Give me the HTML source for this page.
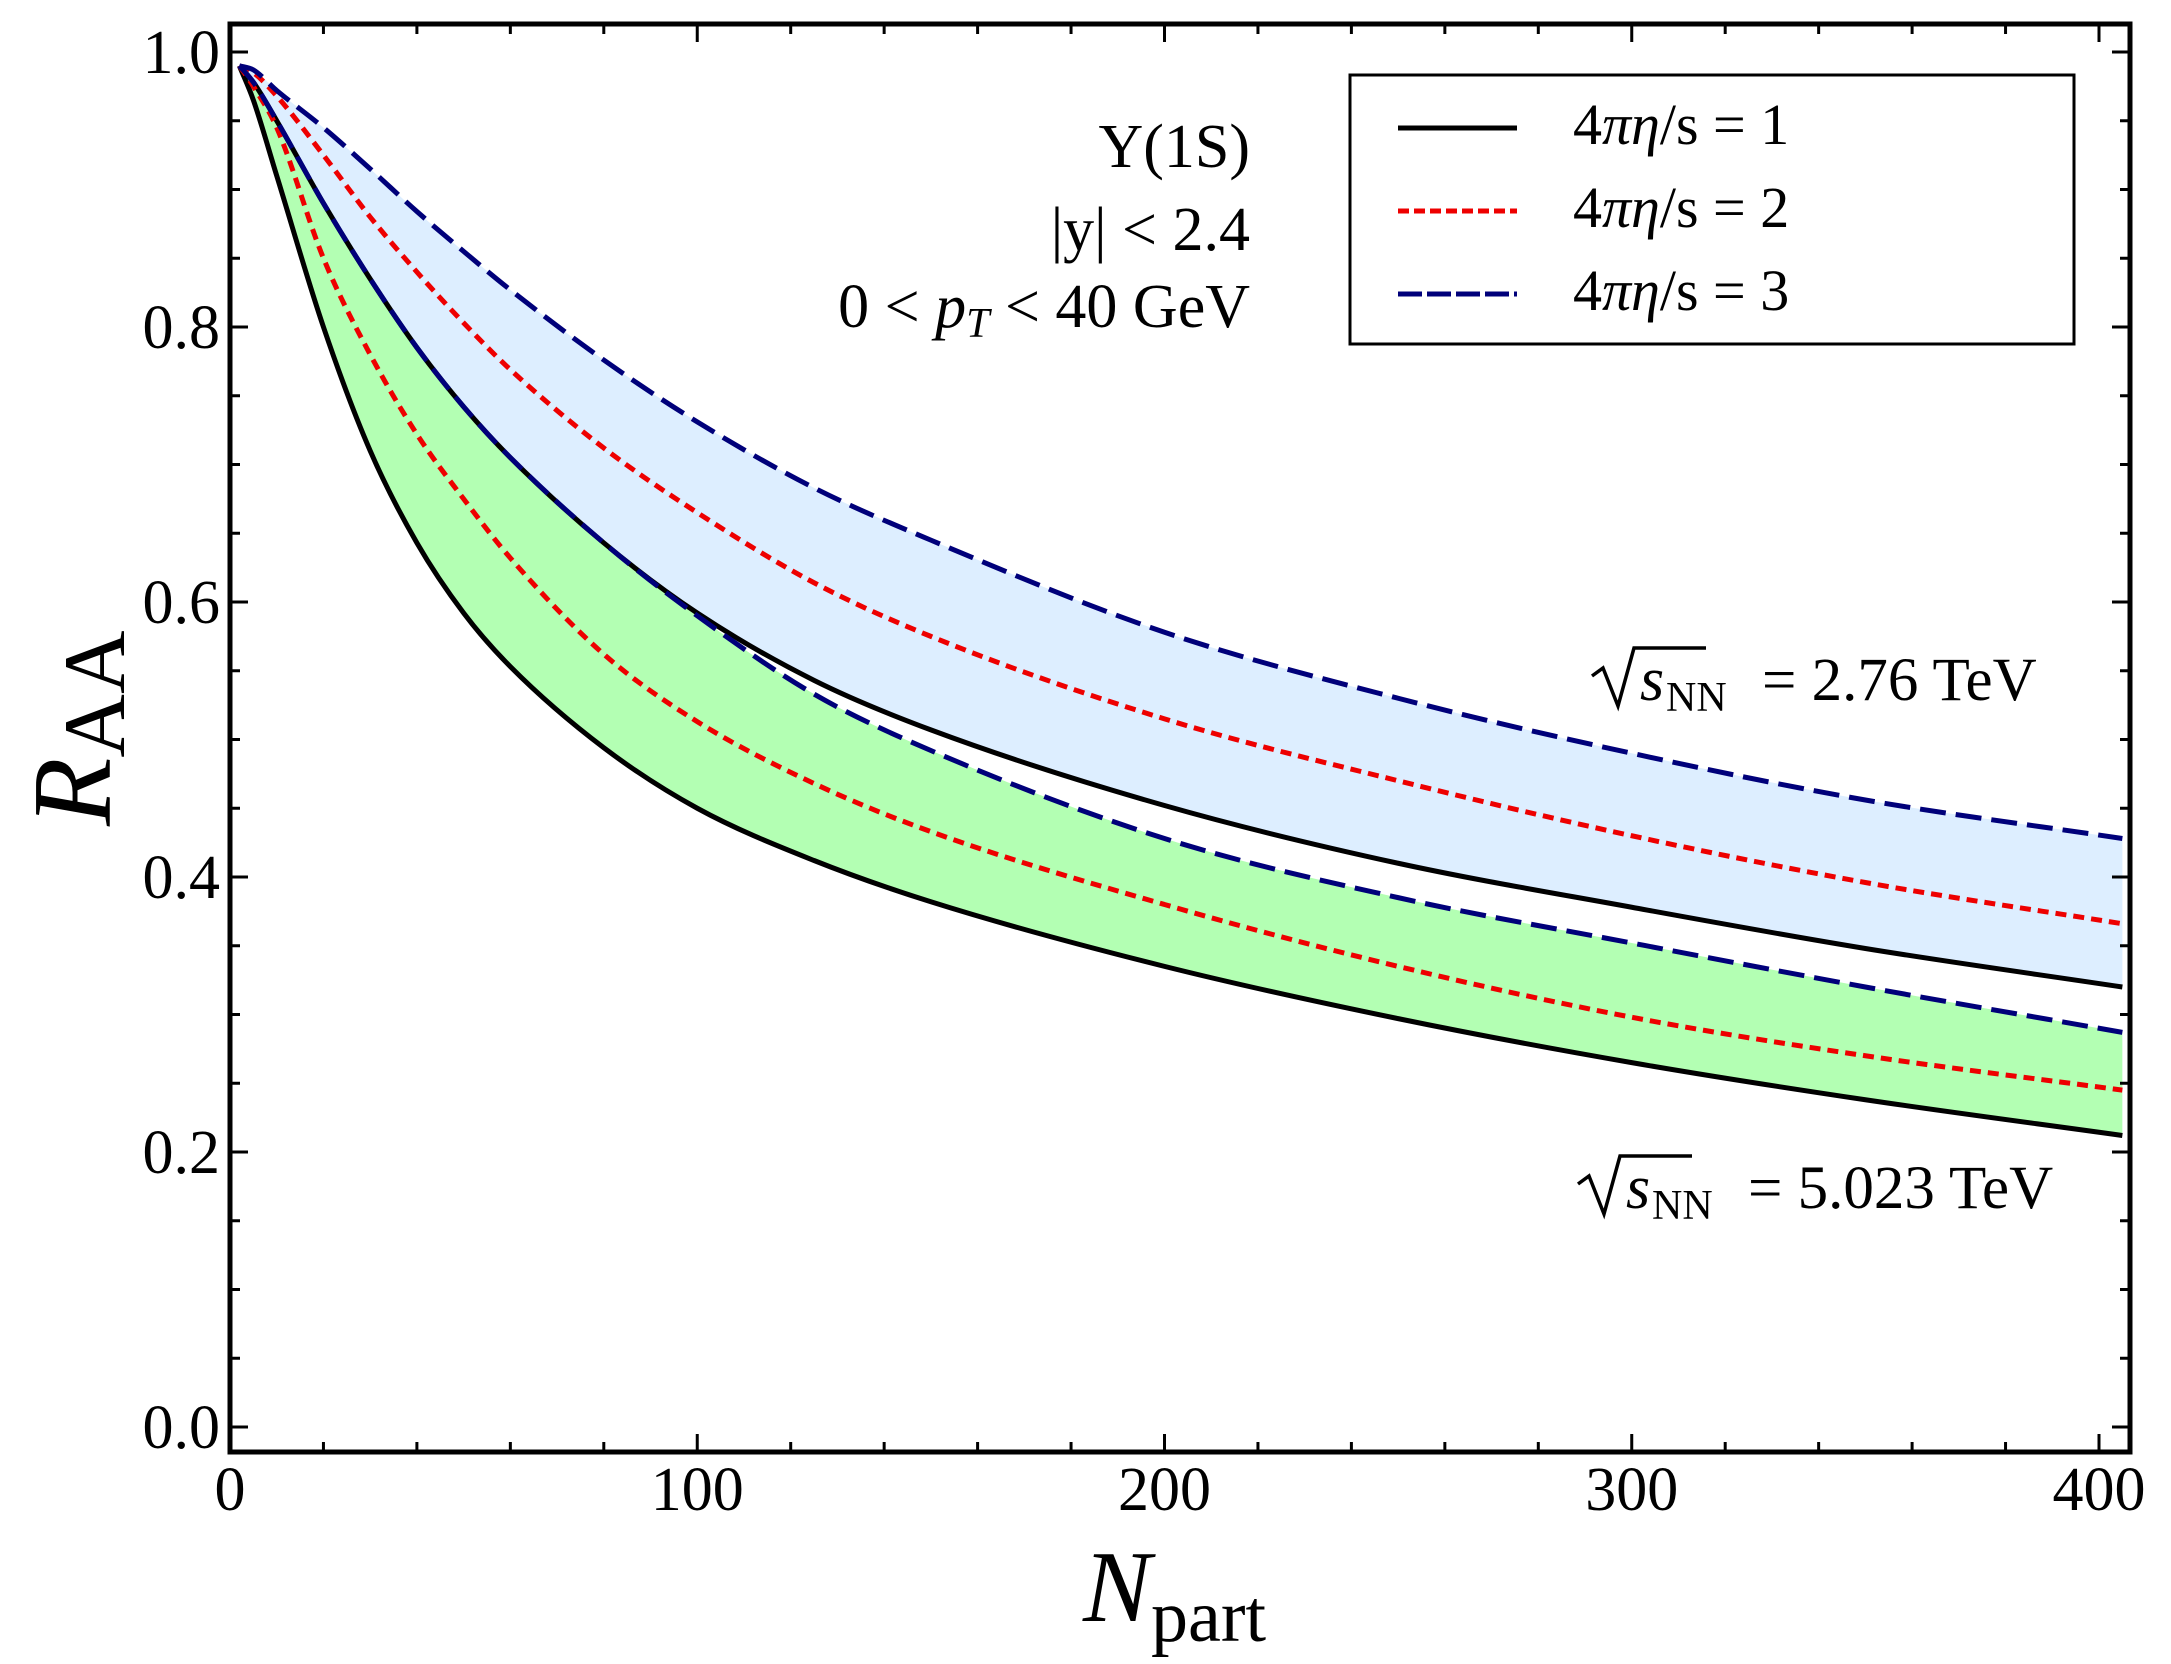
<!DOCTYPE html>
<html><head><meta charset="utf-8">
<style>
html,body{margin:0;padding:0;background:#fff;}
svg{display:block;font-family:"Liberation Serif","DejaVu Serif",serif;}
</style></head>
<body>
<svg id="chart" width="2171" height="1664" viewBox="0 0 2171 1664">
<g id="fills"></g>
<g id="curves"></g>
<g id="axes"></g>
<g id="texts">
<text x="1250" y="167" font-size="62" text-anchor="end">Υ(1S)</text>
<text x="1250" y="250" font-size="62" text-anchor="end">|y| &lt; 2.4</text>
<text x="1250" y="327" font-size="62" text-anchor="end">0 &lt; <tspan font-style="italic">p</tspan><tspan font-style="italic" font-size="42" dy="10">T</tspan><tspan dy="-10"> &lt; 40 GeV</tspan></text>
<g>
<path d="M1592 676 L1603 668 L1618 706 L1634 648 L1706 648" fill="none" stroke="#000" stroke-width="3.5"/>
<text x="1640" y="700" font-size="62" font-style="italic">s</text>
<text x="1666" y="711" font-size="42">NN</text>
<text x="1762" y="700" font-size="61">= 2.76 TeV</text>
</g>
<g>
<path d="M1578 1184 L1589 1176 L1604 1214 L1620 1156 L1692 1156" fill="none" stroke="#000" stroke-width="3.5"/>
<text x="1626" y="1208" font-size="62" font-style="italic">s</text>
<text x="1652" y="1219" font-size="42">NN</text>
<text x="1748" y="1208" font-size="61">= 5.023 TeV</text>
</g>
<text x="0" y="0" font-size="112" font-style="italic" transform="translate(110,826) rotate(-90)">R<tspan font-style="normal" font-size="88" dy="14">AA</tspan></text>
<text x="1083" y="1621" font-size="102" font-style="italic">N<tspan font-style="normal" font-size="74" dy="20">part</tspan></text>
</g>
<g id="legend">
<rect x="1350" y="75" width="724" height="269" fill="#fff" stroke="#000" stroke-width="3"/>
<line x1="1398" y1="128" x2="1517" y2="128" stroke="#000" stroke-width="5"/>
<line x1="1398" y1="211" x2="1517" y2="211" stroke="#e00" stroke-width="5" stroke-dasharray="11 5"/>
<line x1="1398" y1="294" x2="1517" y2="294" stroke="#00007a" stroke-width="5" stroke-dasharray="24 5"/>
<text x="1573" y="144" font-size="58">4<tspan font-style="italic">πη</tspan>/s = 1</text>
<text x="1573" y="227" font-size="58">4<tspan font-style="italic">πη</tspan>/s = 2</text>
<text x="1573" y="310" font-size="58">4<tspan font-style="italic">πη</tspan>/s = 3</text>
</g>
</svg>
<script>
const npart = [2,5,10,20,30,40,50,60,80,100,125,150,200,250,300,350,405];
const eta1_276 = [0.99,0.978,0.95,0.89,0.835,0.785,0.742,0.705,0.643,0.592,0.543,0.507,0.452,0.41,0.378,0.348,0.32];
const eta2_276 = [0.99,0.985,0.968,0.925,0.88,0.84,0.803,0.769,0.712,0.665,0.614,0.575,0.515,0.47,0.43,0.396,0.366];
const eta3_276 = [0.99,0.987,0.972,0.945,0.915,0.884,0.855,0.827,0.776,0.731,0.683,0.645,0.578,0.53,0.49,0.456,0.428];
const eta1_5023 = [0.99,0.965,0.91,0.80,0.71,0.643,0.592,0.553,0.494,0.45,0.412,0.382,0.335,0.297,0.265,0.238,0.212];
const eta2_5023 = [0.99,0.975,0.945,0.85,0.78,0.722,0.675,0.632,0.562,0.513,0.468,0.433,0.38,0.335,0.298,0.27,0.245];
const eta3_5023 = [0.99,0.978,0.95,0.89,0.835,0.785,0.742,0.705,0.643,0.59,0.533,0.492,0.428,0.385,0.352,0.32,0.287];
const xTicks = [0,100,200,300,400];
const yTicks = [0.0,0.2,0.4,0.6,0.8,1.0];

const X0=230, X1=2130, Y0=24, Y1=1452;
const xs = n => 230 + n*4.6725;
const ys = v => 1427 - v*1375;
const NS='http://www.w3.org/2000/svg';
function mk(tag, attrs, parent){const e=document.createElementNS(NS,tag);for(const k in attrs)e.setAttribute(k,attrs[k]);parent.appendChild(e);return e;}
function segs(xv, yv){
  const n=xv.length, d=[], m=new Array(n);
  for(let i=0;i<n-1;i++) d.push((yv[i+1]-yv[i])/(xv[i+1]-xv[i]));
  m[0]=d[0]; m[n-1]=d[n-2];
  for(let i=1;i<n-1;i++){ m[i]=(d[i-1]*d[i]<=0)?0:(d[i-1]+d[i])/2; }
  for(let i=0;i<n-1;i++){
    if(d[i]===0){m[i]=0;m[i+1]=0;continue;}
    const a=m[i]/d[i], b=m[i+1]/d[i], s=a*a+b*b;
    if(s>9){const t=3/Math.sqrt(s);m[i]=t*a*d[i];m[i+1]=t*b*d[i];}
  }
  const out=[];
  for(let i=0;i<n-1;i++){
    const h=xv[i+1]-xv[i];
    out.push([[xs(xv[i]),ys(yv[i])],[xs(xv[i]+h/3),ys(yv[i]+m[i]*h/3)],[xs(xv[i+1]-h/3),ys(yv[i+1]-m[i+1]*h/3)],[xs(xv[i+1]),ys(yv[i+1])]]);
  }
  return out;
}
function smoothPath(xv,yv){
  const s=segs(xv,yv); let d='M'+s[0][0][0]+' '+s[0][0][1];
  s.forEach(g=>{d+=` C${g[1][0]} ${g[1][1]} ${g[2][0]} ${g[2][1]} ${g[3][0]} ${g[3][1]}`;});
  return d;
}
function revPath(xv,yv){
  const s=segs(xv,yv).reverse(); let d='L'+s[0][3][0]+' '+s[0][3][1];
  s.forEach(g=>{d+=` C${g[2][0]} ${g[2][1]} ${g[1][0]} ${g[1][1]} ${g[0][0]} ${g[0][1]}`;});
  return d;
}
const svg=document.getElementById('chart');
const defs=mk('defs',{},svg);
const cp=mk('clipPath',{id:'clip'},defs);
mk('rect',{x:X0,y:Y0,width:X1-X0,height:Y1-Y0},cp);
const fills=document.getElementById('fills');
fills.setAttribute('clip-path','url(#clip)');
const f1=mk('path',{d:smoothPath(npart,eta3_276)+' '+revPath(npart,eta1_276)+' Z',fill:'#ddeeff'},fills);


const f2=mk('path',{d:smoothPath(npart,eta3_5023)+' '+revPath(npart,eta1_5023)+' Z',fill:'#b3ffb3'},fills);


const curves=document.getElementById('curves');
curves.setAttribute('clip-path','url(#clip)');
const series=[
 [eta1_276,'#000','none','curve-eta1-2-76'],
 [eta2_276,'#e00','11 7','curve-eta2-2-76'],
 [eta3_276,'#00007a','26 10','curve-eta3-2-76'],
 [eta1_5023,'#000','none','curve-eta1-5-023'],
 [eta2_5023,'#e00','11 7','curve-eta2-5-023'],
 [eta3_5023,'#00007a','26 10','curve-eta3-5-023']];
series.forEach(s=>{
  const p=mk('path',{d:smoothPath(npart,s[0]),fill:'none',stroke:s[1],'stroke-width':5,'stroke-dasharray':s[2]},curves);
  
  
});
const axes=document.getElementById('axes');
mk('rect',{x:X0,y:Y0,width:X1-X0,height:Y1-Y0,fill:'none',stroke:'#000','stroke-width':5},axes);
for(let n=0;n<=400;n+=20){
  const major=n%100===0, L=major?18:10, x=xs(n);
  mk('line',{x1:x,y1:Y1,x2:x,y2:Y1-L,stroke:'#000','stroke-width':3},axes);
  mk('line',{x1:x,y1:Y0,x2:x,y2:Y0+L,stroke:'#000','stroke-width':3},axes);
}
for(let i=0;i<=20;i++){
  const v=i*0.05, major=i%4===0, L=major?18:10, y=ys(v);
  mk('line',{x1:X0,y1:y,x2:X0+L,y2:y,stroke:'#000','stroke-width':3},axes);
  mk('line',{x1:X1,y1:y,x2:X1-L,y2:y,stroke:'#000','stroke-width':3},axes);
}
xTicks.forEach(n=>{
  const t=mk('text',{x:xs(n),y:1510,'font-size':62,'text-anchor':'middle'},axes);
  t.textContent=String(n);
  
  
});
yTicks.forEach(v=>{
  const t=mk('text',{x:X0-10,y:ys(v)+21,'font-size':62,'text-anchor':'end'},axes);
  t.textContent=v.toFixed(1);
  
  
});
</script>
</body></html>
